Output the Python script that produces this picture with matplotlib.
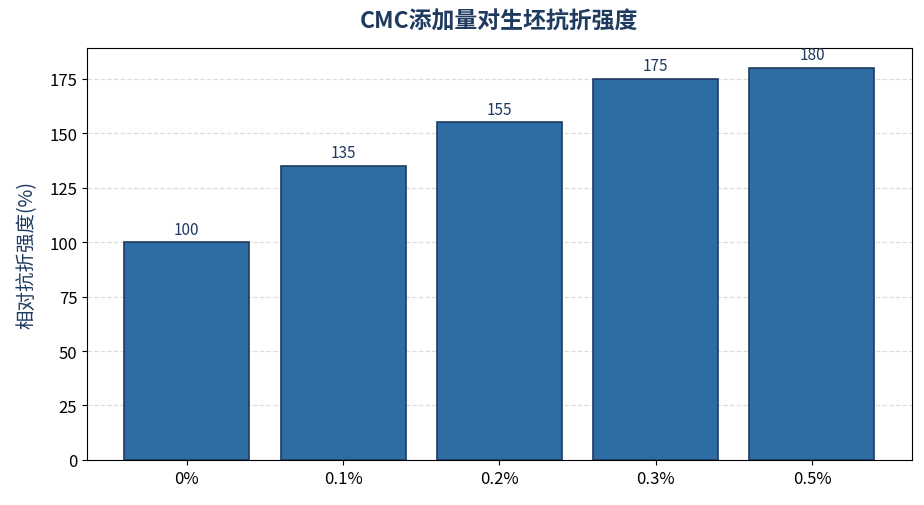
import matplotlib
matplotlib.use("Agg")
import matplotlib.pyplot as plt

plt.rcParams['font.family'] = ['Noto Sans CJK SC', 'DejaVu Sans']

categories = ['0%', '0.1%', '0.2%', '0.3%', '0.5%']
values = [100, 135, 155, 175, 180]

navy = '#1F3A5F'
fig, ax = plt.subplots(figsize=(9.24, 5.06), dpi=100)
fig.subplots_adjust(left=0.094, right=0.987, top=0.903, bottom=0.089)

bars = ax.bar(categories, values, width=0.8, color='#2E6DA4', edgecolor=navy, linewidth=1.2, zorder=3)
for b, v in zip(bars, values):
    ax.text(b.get_x() + b.get_width() / 2, v + 2, f'{v}', ha='center', va='bottom',
            fontsize=11, color=navy)

ax.set_ylim(0, 189)
ax.yaxis.grid(True, linestyle='--', color='#DDDDDD', linewidth=0.9, zorder=0)
ax.set_axisbelow(True)
ax.set_ylabel('相对抗折强度(%)', fontsize=14, color=navy, labelpad=8)
ax.set_title('CMC添加量对生坯抗折强度', fontsize=16.5, fontweight='bold', color=navy, pad=15)
ax.tick_params(axis='both', labelsize=12)

fig.savefig('out.png', dpi=100)
